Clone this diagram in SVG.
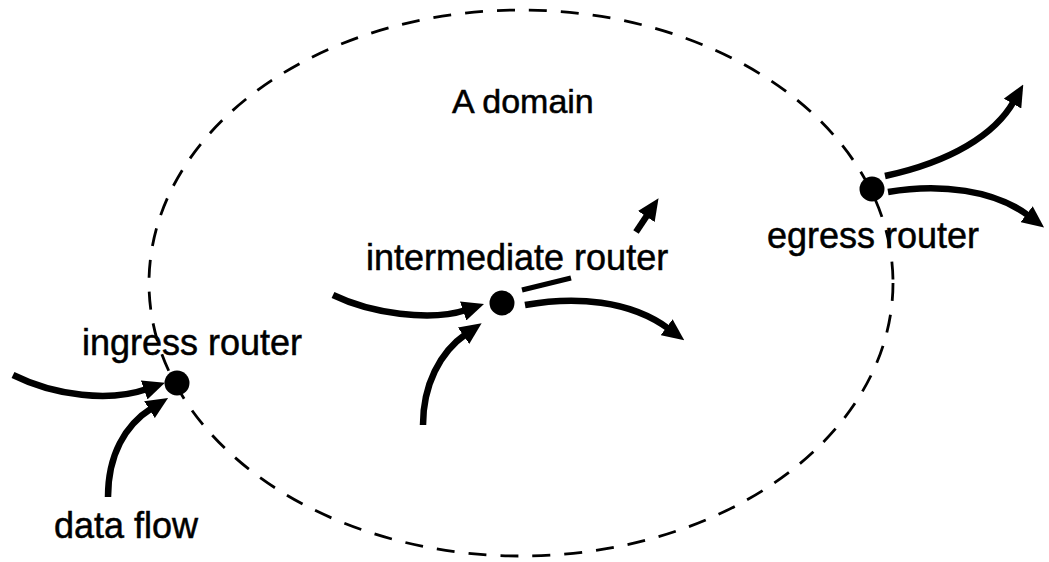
<svg xmlns="http://www.w3.org/2000/svg" width="1049" height="562" viewBox="0 0 1049 562">
  <style>
    .label { font-family: "Liberation Sans", Arial, Helvetica, sans-serif; font-size: 36px; fill: #000; stroke: #000; stroke-width: 0.5; }
    .title { font-size: 34px; }
    .boundary { fill: none; stroke: #000; stroke-width: 2.8; stroke-dasharray: 18 14; }
    .flow { fill: none; stroke: #000; stroke-width: 6.5; marker-end: url(#head); }
    .router { fill: #000; }
  </style>
  <defs>
    <marker id="head" viewBox="0 0 22 20" refX="3" refY="10" markerWidth="22" markerHeight="20" markerUnits="userSpaceOnUse" orient="auto">
      <path d="M0,0 L22,10 L0,20 Z" fill="#000"/>
    </marker>
  </defs>
  <rect width="1049" height="562" fill="#fff"/>

  <!-- domain boundary -->
  <g id="domain">
    <ellipse class="boundary" cx="521" cy="283" rx="372" ry="273"/>
    <text class="label title" x="452" y="113">A domain</text>
  </g>

  <!-- packet flows -->
  <g id="connectors">
    <path class="flow" d="M13,375 C55,396 110,402 147,389"/>
    <path class="flow" d="M108,497 C108,455 125,425 152,408"/>
    <path class="flow" d="M333,295 C370,313 430,322 466,310"/>
    <path class="flow" d="M423,425 C423,385 440,352 466,334"/>
    <path class="flow" d="M525,305 C575,296 630,300 669,329"/>
    <path fill="none" stroke="#000" stroke-width="5" d="M522,290 L571,278"/>
    <path class="flow" d="M636,232 L648,214"/>
    <path class="flow" d="M885,176 C950,162 995,135 1014,101"/>
    <path class="flow" d="M888,192 C940,183 995,190 1029,216"/>
    <text class="label" x="54" y="538">data flow</text>
  </g>

  <g id="ingress">
    <circle class="router" cx="177" cy="383" r="12.5"/>
    <text class="label" x="82" y="355">ingress router</text>
  </g>

  <g id="intermediate">
    <circle class="router" cx="502" cy="303" r="12.5"/>
    <text class="label" x="366" y="270">intermediate router</text>
  </g>

  <g id="egress">
    <circle class="router" cx="872" cy="189" r="12.5"/>
    <text class="label" x="767" y="248">egress router</text>
  </g>
</svg>
